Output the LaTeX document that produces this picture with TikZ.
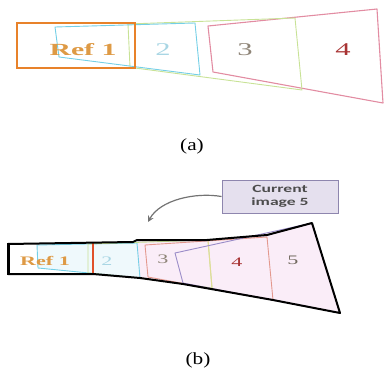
\documentclass[tikz,border=0pt]{standalone}
\usepackage{graphicx}
\usepackage{fontspec}
\setmainfont{Liberation Serif}
\newfontfamily\calib{Carlito}
\usetikzlibrary{arrows.meta}
\definecolor{orng}{HTML}{E8822A}
\definecolor{reftxt}{HTML}{DE9A45}
\definecolor{cyn}{HTML}{74CFE6}
\definecolor{grn}{HTML}{C8E296}
\definecolor{pnk}{HTML}{E28CA2}
\definecolor{dred}{HTML}{A83434}
\definecolor{lcyantxt}{HTML}{A9D6E4}
\definecolor{gtxt}{HTML}{8F8578}
\definecolor{boxfill}{HTML}{E5E0EE}
\definecolor{boxdraw}{HTML}{8E86AE}
\definecolor{pfill}{HTML}{FAEDF8}
\definecolor{cfill}{HTML}{EFF9FC}
\definecolor{purp}{HTML}{9A8CC8}
\definecolor{redv}{HTML}{E0502A}
\definecolor{orpk}{HTML}{E3988E}
\definecolor{ylw}{HTML}{E0DC96}
\newcommand{\sx}[2]{\scalebox{#1}[1]{#2}}
\tikzset{
  lbl/.style={inner sep=0pt,font=\fontsize{18}{18}\selectfont},
  lblb/.style={inner sep=0pt,font=\fontsize{13}{13}\selectfont},
  captxt/.style={inner sep=0pt,font=\fontsize{17}{17}\selectfont},
  thin quad/.style={line width=0.9pt,line join=round},
}
\begin{document}
\begin{tikzpicture}[x=1pt,y=-1pt]
\useasboundingbox (0,0) rectangle (384,383);
% ---------- (a) ----------
\draw[pnk,thin quad,line width=1.1pt] (208,26) -- (377,9) -- (383,103) -- (213,72) -- cycle;
\draw[grn,thin quad] (128,24) -- (295,18) -- (302,90) -- (135,68);
\draw[grn,thin quad] (128,24) -- (130,67);
\draw[cyn,thin quad] (55,27) -- (195,23) -- (200,75) -- (59,57) -- cycle;
\draw[orng,line width=2pt] (17,23) rectangle (135,68);
\node[lbl,text=reftxt,font=\fontsize{17}{17}\selectfont\bfseries] (ra) at (83,50) {\sx{1.75}{Ref 1}};
\node[lbl,text=lcyantxt] (ta2) at (163,50) {\sx{1.7}{2}};
\node[lbl,text=gtxt] (ta3) at (245,50) {\sx{1.7}{3}};
\node[lbl,text=dred] (ta4) at (343,50) {\sx{1.7}{4}};
\node[captxt] (capa) at (192,146) {\sx{1.25}{(a)}};
% ---------- (b) ----------
\fill[cfill] (37,245) -- (93,243) -- (93,274) -- (38,268) -- cycle;
\fill[cfill] (93,243) -- (137,241) -- (140,278) -- (93,274) -- cycle;
\fill[pfill] (137,241) -- (207,240) -- (267,235) -- (312,223) -- (340,313) -- (273,300) -- (183,284) -- (140,278) -- cycle;
\draw[cyn,thin quad] (37,245) -- (137,243) -- (140,278) -- (38,268) -- cycle;
\draw[grn,thin quad] (88,244) -- (208,240) -- (212,288) -- (140,278) -- (88,273) -- cycle;
\draw[ylw,line width=1pt] (208,240) -- (212,288);
\draw[orpk,thin quad] (145,245) -- (267,237) -- (273,300) -- (148,277) -- cycle;
\draw[purp,thin quad] (175,253) -- (312,223) -- (340,313) -- (183,283) -- cycle;
\draw[redv,line width=1.3pt] (93,243) -- (93,274);
\draw[black,line width=2pt,line join=round] (8,244) -- (133,242) -- (137,240) -- (207,240) -- (267,235) -- (312,223) -- (340,313) -- (273,300) -- (183,284) -- (140,278) -- (93,274) -- (8,274) -- cycle;
\draw[black,line width=3pt] (8,243) -- (8,275);
\node[lblb,text=reftxt,font=\fontsize{13}{13}\selectfont\bfseries] (rb) at (45,261) {\sx{1.7}{Ref 1}};
\node[lblb,text=lcyantxt] (tb2) at (107,261) {\sx{1.7}{2}};
\node[lblb,text=gtxt] (tb3) at (163,259) {\sx{1.7}{3}};
\node[lblb,text=dred] (tb4) at (237,262) {\sx{1.7}{4}};
\node[lblb,text=gtxt!80!black] (tb5) at (293,260) {\sx{1.7}{5}};
\node[draw=boxdraw,fill=boxfill,line width=1pt,minimum width=116pt,minimum height=33pt,inner sep=0pt,align=center,font=\calib\bfseries\fontsize{11}{12.5}\selectfont,text=black!70] (cur) at (280,196.5) {\sx{1.6}{Current}\\\sx{1.6}{image 5}};
\coordinate (tip) at (148,222);
\draw[black!55,line width=1.2pt,-{Stealth[length=6pt,width=6pt]}] (cur.west) .. controls (195,192) and (160,200) .. (tip);
\node[captxt] (capb) at (198,360) {\sx{1.25}{(b)}};
\end{tikzpicture}
\end{document}
